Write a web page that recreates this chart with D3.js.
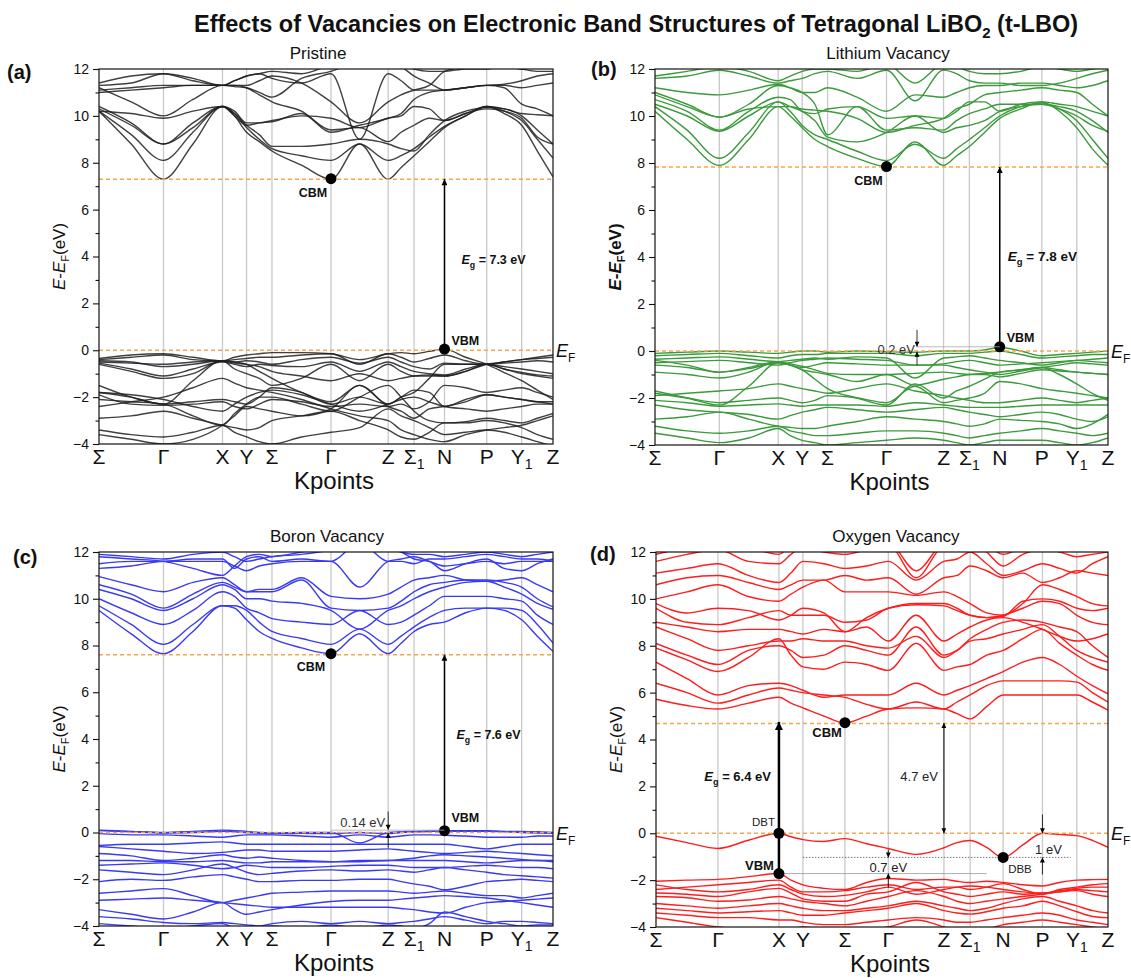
<!DOCTYPE html>
<html>
<head>
<meta charset="utf-8">
<script src="https://cdn.jsdelivr.net/npm/d3@7"></script>
<style>
  body { margin: 0; background: #fff; }
  text { font-family: Arial, "Liberation Sans", sans-serif; }
</style>
</head>
<body>
<svg id="chart" width="1131" height="978"></svg>
<script>
// k-path: labels and fractional positions of the high-symmetry points
// each band is sampled at the 12 points plus the 11 midpoints (23 values)
const kLabels = ["Σ", "Γ", "X", "Y", "Σ", "Γ", "Z", "Σ_1", "N", "P", "Y_1", "Z"];
const kPathABC = [0, 0.142, 0.272, 0.325, 0.381, 0.511, 0.637, 0.694, 0.761, 0.854, 0.931, 1];
const kPathD = [0, 0.137, 0.272, 0.325, 0.418, 0.514, 0.637, 0.695, 0.768, 0.855, 0.931, 1];
const majorTicks = [12, 10, 8, 6, 4, 2, 0, -2, -4];
const minorTicks = [11, 9, 7, 5, 3, 1, -1, -3];

// (a) pristine
const pristineCond = [
  [10.2, 8.8, 7.3, 8.8, 10.4, 10.0, 9.3, 8.9, 8.5, 7.9, 7.3, 8.8, 7.3, 7.8, 8.3, 8.9, 9.5, 10.0, 10.4, 10.1, 9.6, 8.5, 7.4],
  [10.2, 9.2, 8.1, 9.3, 10.4, 10.1, 9.5, 9.0, 8.6, 8.3, 8.1, 8.8, 8.1, 8.3, 8.6, 9.1, 9.55, 10.0, 10.4, 10.2, 9.8, 9.0, 8.2],
  [10.3, 9.6, 8.8, 9.5, 10.4, 10.1, 9.6, 9.2, 8.7, 8.7, 8.8, 9.0, 8.8, 8.6, 8.5, 9.2, 9.8, 10.2, 10.35, 10.3, 10.0, 9.4, 8.8],
  [10.4, 9.7, 8.8, 9.7, 10.4, 10.2, 9.7, 9.7, 9.8, 10.0, 9.9, 9.5, 9.9, 10.0, 10.4, 10.3, 9.8, 10.1, 10.4, 10.3, 10.1, 10.05, 10.0],
  [11.2, 10.6, 10.0, 10.7, 11.3, 11.3, 11.2, 10.9, 10.6, 10.2, 9.4, 9.5, 8.9, 9.3, 9.6, 9.9, 9.8, 10.1, 10.3, 10.2, 9.9, 9.1, 8.8],
  [11.4, 11.7, 11.8, 11.5, 11.3, 11.5, 11.7, 11.8, 11.6, 11.4, 11.8, 9.0, 11.8, 11.5, 11.1, 11.1, 11.1, 11.2, 11.3, 11.35, 11.5, 11.7, 11.8],
  [11.1, 11.2, 11.3, 11.3, 11.3, 11.25, 11.2, 11.0, 10.8, 11.6, 11.9, 12.3, 12.3, 12.1, 11.7, 11.4, 11.1, 11.2, 11.3, 11.3, 11.2, 11.3, 11.4],
  [11.3, 11.4, 11.8, 11.6, 11.3, 11.5, 11.7, 11.8, 11.9, 11.8, 12.2, 12.6, 12.4, 12.2, 12.0, 11.9, 11.9, 12.0, 12.0, 12.1, 12.0, 12.1, 12.2],
  [10.2, 10.1, 9.9, 10.2, 10.4, 10.0, 9.6, 9.7, 9.75, 10.1, 9.3, 9.6, 9.9, 10.1, 10.7, 11.0, 11.1, 11.2, 11.3, 11.2, 10.5, 10.3, 10.0],
  [11.0, 11.1, 11.2, 11.3, 11.3, 11.3, 11.3, 11.5, 11.7, 11.4, 10.6, 9.7, 10.6, 10.9, 11.1, 11.3, 11.9, 12.1, 12.3, 12.2, 12.0, 11.9, 11.9]
];
const pristineVal = [
  [-0.35, -0.2, -0.15, -0.3, -0.45, -0.3, -0.2, -0.15, -0.1, -0.1, -0.15, -0.4, -0.15, -0.1, -0.15, -0.05, 0.05, -0.3, -0.6, -0.95, -1.3, -1.7, -2.1],
  [-0.4, -0.3, -0.2, -0.4, -0.45, -0.4, -0.35, -0.3, -0.3, -0.2, -0.15, -0.6, -0.15, -0.3, -0.5, -0.35, -0.2, -0.45, -0.6, -0.5, -0.4, -0.35, -0.3],
  [-0.5, -0.55, -0.6, -0.5, -0.45, -0.5, -0.45, -0.5, -0.6, -0.4, -0.3, -0.55, -0.3, -0.5, -0.7, -0.8, -0.55, -0.6, -0.6, -0.55, -0.5, -0.45, -0.5],
  [-0.55, -0.8, -1.1, -0.8, -0.5, -0.6, -0.7, -0.6, -0.65, -0.7, -0.5, -0.9, -0.5, -0.7, -0.9, -1.0, -1.05, -0.8, -0.6, -0.7, -0.8, -0.9, -1.0],
  [-0.6, -0.9, -1.2, -1.0, -0.45, -0.8, -1.0, -1.2, -1.5, -1.2, -0.6, -1.3, -0.6, -0.9, -1.1, -1.1, -1.1, -0.9, -0.6, -0.5, -0.4, -0.3, -0.2],
  [-1.5, -2.0, -2.3, -1.3, -0.45, -0.5, -0.6, -0.9, -1.2, -1.8, -2.2, -1.5, -2.3, -2.0, -1.8, -1.2, -0.6, -0.6, -0.6, -0.8, -1.0, -1.1, -1.2],
  [-1.8, -2.0, -2.3, -2.2, -2.1, -2.2, -2.3, -2.0, -1.6, -1.8, -2.3, -2.0, -2.3, -2.0, -1.7, -1.8, -2.4, -2.1, -1.9, -2.0, -2.1, -2.2, -2.2],
  [-1.9, -2.3, -2.35, -2.3, -2.2, -2.4, -2.5, -2.3, -2.1, -2.2, -2.4, -2.3, -2.4, -2.3, -2.5, -2.2, -1.5, -1.6, -1.8, -1.7, -1.6, -1.8, -2.0],
  [-2.1, -2.2, -2.3, -2.8, -3.2, -2.7, -2.3, -2.0, -2.0, -2.3, -2.6, -2.0, -1.5, -2.0, -2.6, -3.0, -3.1, -3.05, -2.9, -3.0, -3.1, -2.9, -2.7],
  [-2.9, -2.8, -2.6, -2.9, -3.2, -3.3, -3.4, -3.3, -3.0, -2.8, -2.6, -3.0, -3.4, -3.7, -3.8, -3.5, -3.1, -3.1, -3.0, -3.1, -3.3, -3.6, -3.8],
  [-3.4, -3.6, -3.7, -3.5, -3.2, -3.5, -3.7, -3.9, -4.0, -3.7, -3.5, -3.3, -2.5, -2.8, -3.0, -3.3, -3.6, -3.5, -3.4, -3.5, -3.7, -3.9, -4.1],
  [-3.6, -3.8, -4.0, -3.8, -3.2, -2.8, -2.4, -2.5, -2.6, -2.8, -2.5, -1.5, -2.4, -2.6, -2.9, -2.5, -2.4, -2.2, -1.9, -2.0, -2.1, -2.2, -2.3],
  [-2.4, -2.2, -2.0, -1.6, -1.2, -1.4, -1.6, -1.7, -1.8, -2.1, -2.5, -2.8, -3.0, -3.4, -3.6, -3.8, -3.9, -3.6, -3.4, -3.3, -3.2, -3.0, -2.8],
  [-0.45, -0.5, -0.7, -0.6, -0.45, -0.55, -0.6, -0.7, -0.9, -1.1, -1.3, -1.0, -1.3, -1.2, -1.1, -1.05, -1.1, -0.9, -0.6, -0.8, -0.95, -1.05, -1.1],
  [-1.8, -1.9, -2.1, -2.4, -2.6, -2.3, -2.0, -1.8, -1.7, -1.9, -2.3, -2.6, -2.3, -2.1, -2.0, -2.2, -2.4, -2.5, -2.6, -2.5, -2.4, -2.3, -2.3]
];

// (b) lithium vacancy
const lithiumCond = [
  [10.2, 9.0, 7.9, 9.0, 10.4, 10.0, 9.5, 9.0, 8.7, 8.2, 7.85, 8.9, 7.9, 8.3, 8.7, 9.3, 9.9, 10.3, 10.6, 10.2, 9.5, 8.6, 7.9],
  [10.4, 9.4, 8.2, 9.3, 10.6, 10.2, 9.6, 9.2, 9.0, 8.5, 8.1, 8.8, 8.2, 8.6, 9.0, 9.5, 10.0, 10.4, 10.55, 10.3, 9.8, 9.0, 8.2],
  [10.5, 10.0, 9.35, 10.0, 10.6, 10.4, 10.2, 9.8, 9.1, 8.9, 9.3, 10.0, 9.3, 9.5, 9.6, 9.8, 10.2, 10.4, 10.5, 10.3, 10.0, 9.6, 9.35],
  [10.7, 10.2, 9.4, 10.2, 10.8, 10.7, 10.2, 10.1, 10.3, 10.4, 9.4, 9.5, 9.4, 9.8, 10.1, 10.3, 10.5, 10.5, 10.5, 10.4, 10.2, 9.8, 9.3],
  [11.0, 10.5, 9.95, 10.5, 11.3, 11.2, 11.0, 10.5, 9.2, 10.4, 9.9, 10.0, 9.9, 10.2, 10.6, 10.6, 10.2, 10.5, 10.6, 10.5, 10.4, 10.2, 10.0],
  [11.2, 11.0, 10.9, 11.1, 11.35, 11.2, 11.0, 11.0, 11.2, 10.8, 10.2, 10.9, 10.8, 11.0, 11.2, 11.3, 11.3, 11.4, 11.4, 11.3, 11.2, 11.3, 11.5],
  [11.6, 11.7, 11.95, 11.7, 11.4, 11.5, 11.6, 11.8, 11.9, 11.6, 11.95, 10.65, 11.95, 11.8, 11.5, 11.4, 11.4, 11.3, 11.3, 11.4, 11.6, 11.8, 11.95],
  [11.7, 11.9, 12.1, 11.9, 11.5, 11.7, 11.9, 12.0, 12.0, 11.9, 12.2, 11.4, 12.2, 12.1, 11.9, 11.8, 11.8, 11.9, 12.1, 12.0, 11.9, 12.0, 12.1],
  [10.9, 10.4, 9.95, 10.3, 10.4, 10.4, 10.3, 10.25, 10.2, 9.9, 9.3, 9.6, 9.9, 10.3, 10.5, 10.9, 11.0, 11.1, 11.2, 11.1, 11.0, 10.5, 10.0]
];
const lithiumVal = [
  [-0.1, -0.05, 0.0, -0.05, -0.1, -0.05, 0.0, 0.0, -0.05, 0.0, -0.03, -0.05, 0.0, 0.0, 0.0, 0.05, 0.15, 0.0, -0.2, -0.15, -0.1, -0.05, 0.0],
  [-0.2, -0.15, -0.1, -0.2, -0.3, -0.2, -0.15, -0.15, -0.1, -0.1, -0.1, -0.2, -0.1, -0.1, -0.1, -0.05, 0.0, -0.15, -0.3, -0.25, -0.2, -0.15, -0.15],
  [-0.35, -0.3, -0.25, -0.35, -0.45, -0.4, -0.35, -0.3, -0.35, -0.25, -0.3, -1.15, -0.3, -0.25, -0.2, -0.3, -0.4, -0.5, -0.6, -0.5, -0.4, -0.35, -0.3],
  [-0.5, -0.45, -0.4, -0.5, -0.6, -0.5, -0.4, -0.35, -0.3, -0.35, -0.4, -0.6, -0.55, -0.45, -0.4, -0.5, -0.6, -0.55, -0.5, -0.45, -0.4, -0.45, -0.5],
  [-0.6, -0.7, -0.9, -0.75, -0.5, -0.6, -0.7, -0.6, -0.5, -0.55, -0.6, -0.6, -0.6, -0.7, -0.8, -0.9, -1.0, -0.85, -0.7, -0.6, -0.5, -0.55, -0.6],
  [-0.9, -1.0, -1.15, -0.9, -0.45, -0.6, -0.8, -0.9, -1.0, -1.3, -1.0, -1.45, -1.2, -1.1, -1.0, -0.95, -0.9, -0.8, -0.7, -0.8, -0.9, -0.95, -1.0],
  [-1.7, -2.0, -2.3, -1.5, -0.5, -0.6, -0.8, -1.2, -1.6, -2.0, -2.3, -1.4, -2.0, -1.7, -1.5, -1.2, -0.9, -0.8, -0.7, -1.0, -1.4, -1.8, -2.1],
  [-1.8, -2.0, -2.2, -2.1, -2.0, -2.1, -2.2, -2.1, -1.9, -2.0, -2.2, -1.5, -2.2, -2.1, -2.0, -1.8, -1.3, -1.4, -1.6, -1.7, -1.8, -1.9, -2.0],
  [-2.1, -2.2, -2.35, -2.3, -2.25, -2.3, -2.35, -2.3, -2.3, -2.3, -2.35, -2.2, -2.3, -2.35, -2.4, -2.4, -2.4, -2.35, -2.3, -2.3, -2.3, -2.3, -2.3],
  [-2.3, -2.5, -2.6, -2.7, -2.9, -2.75, -2.6, -2.5, -2.4, -2.5, -2.6, -2.5, -2.4, -2.5, -2.6, -2.7, -2.8, -2.7, -2.6, -2.7, -2.9, -3.0, -2.8],
  [-2.9, -2.8, -2.6, -2.9, -3.2, -3.25, -3.3, -3.3, -3.2, -3.0, -2.8, -2.9, -3.0, -3.1, -3.2, -3.1, -2.9, -2.95, -3.0, -3.1, -3.3, -3.1, -2.7],
  [-3.2, -3.4, -3.5, -3.4, -3.2, -3.4, -3.5, -3.6, -3.6, -3.5, -3.4, -3.4, -3.5, -3.6, -3.7, -3.6, -3.5, -3.4, -3.3, -3.4, -3.5, -3.6, -3.5],
  [-3.5, -3.7, -3.9, -3.7, -3.3, -3.6, -3.8, -3.9, -4.0, -3.9, -3.8, -3.7, -3.8, -3.9, -4.0, -3.9, -3.8, -3.8, -3.8, -3.9, -4.0, -3.9, -3.7],
  [-1.9, -1.8, -1.7, -1.6, -1.4, -1.5, -1.6, -1.7, -1.8, -1.6, -1.4, -1.7, -1.9, -2.0, -2.1, -2.2, -2.2, -2.1, -2.0, -2.1, -2.2, -2.1, -2.0],
  [-0.4, -0.6, -0.9, -0.7, -0.45, -0.55, -0.65, -0.8, -0.95, -1.0, -1.0, -0.95, -0.9, -0.95, -1.0, -1.0, -1.1, -0.95, -0.8, -0.85, -0.9, -0.95, -1.0]
];

// (c) boron vacancy
const boronCond = [
  [9.5, 8.5, 7.65, 8.6, 9.7, 9.6, 9.1, 8.6, 8.3, 7.9, 7.65, 8.5, 7.65, 8.1, 8.6, 8.9, 9.0, 9.4, 9.6, 9.5, 9.1, 8.4, 7.75],
  [9.7, 8.9, 8.05, 8.9, 9.7, 9.7, 9.5, 9.0, 8.6, 8.3, 8.05, 8.7, 8.05, 8.4, 8.8, 9.2, 9.5, 9.6, 9.6, 9.6, 9.5, 8.9, 8.1],
  [10.0, 9.4, 8.9, 9.5, 10.3, 10.1, 9.6, 9.4, 9.15, 9.0, 8.9, 9.5, 8.9, 9.0, 9.3, 9.7, 10.1, 10.1, 10.1, 10.0, 9.9, 9.3, 8.9],
  [10.4, 10.0, 9.5, 10.0, 10.6, 10.4, 10.0, 10.0, 9.9, 9.8, 9.5, 8.7, 9.5, 9.7, 10.0, 10.3, 10.5, 10.7, 10.75, 10.5, 10.2, 9.8, 9.55],
  [10.6, 10.2, 9.6, 10.2, 10.7, 10.5, 10.3, 10.3, 10.3, 10.8, 9.6, 9.5, 9.6, 9.9, 10.3, 10.6, 10.7, 10.8, 10.8, 10.7, 10.5, 10.0, 9.65],
  [10.95, 10.6, 10.3, 10.7, 10.9, 10.6, 10.3, 10.4, 10.4, 10.9, 10.1, 10.0, 10.2, 10.5, 10.8, 10.9, 11.0, 10.8, 10.75, 10.8, 10.9, 10.6, 10.3],
  [11.3, 11.4, 11.6, 11.6, 11.6, 11.4, 11.2, 11.4, 11.5, 11.6, 11.6, 10.5, 11.6, 11.7, 11.8, 11.6, 11.4, 11.5, 11.6, 11.5, 11.6, 11.6, 11.6],
  [11.5, 11.6, 11.6, 11.7, 11.7, 11.3, 11.7, 11.8, 11.6, 11.7, 11.6, 12.4, 11.6, 11.6, 11.5, 11.7, 11.7, 11.8, 11.9, 11.8, 11.7, 11.7, 11.6],
  [11.8, 11.7, 11.6, 11.3, 11.0, 11.4, 11.8, 11.9, 11.8, 12.0, 12.2, 12.4, 12.2, 12.0, 11.9, 11.9, 11.8, 11.9, 12.0, 11.9, 11.8, 11.9, 12.0],
  [11.9, 11.8, 11.7, 11.9, 12.0, 11.8, 11.6, 11.7, 11.8, 11.9, 12.1, 12.5, 12.1, 12.0, 11.7, 11.6, 11.2, 11.5, 11.7, 11.3, 11.2, 11.5, 11.7]
];
const boronVal = [
  [0.1, 0.05, 0.0, 0.05, 0.1, 0.08, 0.05, 0.0, -0.02, 0.0, 0.0, -0.45, 0.0, 0.03, 0.05, 0.07, 0.08, 0.08, 0.08, 0.05, 0.05, 0.03, 0.0],
  [0.08, 0.03, -0.02, 0.0, 0.05, 0.03, 0.0, -0.03, -0.05, -0.03, -0.05, 0.0, -0.05, 0.0, 0.02, 0.04, 0.06, 0.05, 0.05, 0.03, 0.0, -0.02, -0.03],
  [-0.05, -0.1, -0.1, -0.15, -0.2, -0.15, -0.1, -0.1, -0.1, -0.15, -0.2, -0.1, -0.2, -0.15, -0.1, -0.1, -0.12, -0.15, -0.2, -0.2, -0.2, -0.15, -0.15],
  [-0.55, -0.5, -0.5, -0.45, -0.4, -0.45, -0.5, -0.5, -0.5, -0.5, -0.5, -0.5, -0.5, -0.5, -0.5, -0.5, -0.5, -0.6, -0.7, -0.6, -0.5, -0.5, -0.5],
  [-0.6, -0.7, -0.8, -0.9, -0.85, -0.8, -0.75, -0.75, -0.8, -0.8, -0.8, -0.75, -0.7, -0.75, -0.8, -0.85, -0.9, -0.85, -0.8, -0.85, -0.9, -0.95, -1.0],
  [-0.9, -1.0, -1.2, -1.1, -0.95, -1.05, -1.1, -1.05, -1.1, -1.2, -1.25, -1.2, -1.2, -1.15, -1.1, -1.0, -0.95, -1.0, -1.05, -1.1, -1.15, -1.2, -1.2],
  [-1.2, -1.2, -1.25, -1.25, -1.2, -1.25, -1.3, -1.3, -1.25, -1.25, -1.25, -1.25, -1.2, -1.2, -1.2, -1.2, -1.2, -1.25, -1.3, -1.25, -1.2, -1.2, -1.25],
  [-1.4, -1.35, -1.3, -1.4, -1.55, -1.5, -1.4, -1.45, -1.5, -1.5, -1.45, -1.4, -1.4, -1.45, -1.5, -1.5, -1.5, -1.45, -1.4, -1.45, -1.5, -1.5, -1.55],
  [-1.6, -1.7, -1.8, -1.6, -1.35, -1.5, -1.7, -1.8, -1.75, -1.65, -1.6, -1.65, -1.6, -1.65, -1.7, -1.6, -1.5, -1.6, -1.7, -1.8, -1.85, -1.9, -1.95],
  [-2.1, -2.0, -2.05, -1.9, -1.8, -1.9, -2.0, -2.1, -2.1, -2.05, -2.05, -2.0, -2.0, -2.1, -2.2, -2.3, -2.45, -2.3, -2.1, -2.05, -2.0, -2.05, -2.1],
  [-2.6, -2.5, -2.4, -2.7, -3.0, -2.9, -2.8, -2.7, -2.6, -2.55, -2.5, -2.5, -2.5, -2.55, -2.6, -2.55, -2.5, -2.6, -2.7, -2.7, -2.8, -2.7, -2.6],
  [-2.9, -2.85, -2.8, -2.9, -3.0, -3.05, -3.1, -3.15, -3.2, -3.2, -3.2, -3.2, -3.2, -3.25, -3.3, -3.4, -3.45, -3.2, -3.0, -2.95, -2.9, -2.85, -2.8],
  [-3.3, -3.5, -3.7, -3.4, -3.0, -3.3, -3.5, -3.4, -3.3, -3.1, -2.95, -2.9, -2.9, -2.85, -2.8, -2.75, -2.7, -2.75, -2.8, -2.9, -3.0, -3.1, -3.2],
  [-3.6, -3.7, -3.85, -3.9, -3.85, -3.9, -3.95, -4.0, -3.9, -3.8, -3.9, -3.8, -3.9, -3.85, -3.8, -3.7, -3.6, -3.75, -3.9, -3.8, -3.8, -3.85, -3.9],
  [-3.9, -4.0, -4.1, -4.0, -3.9, -4.1, -4.2, -4.1, -4.0, -4.1, -3.95, -4.1, -3.95, -4.0, -4.1, -3.9, -3.4, -3.6, -3.8, -3.9, -4.0, -3.95, -3.95]
];

// (d) oxygen vacancy
const oxygenCond = [
  [5.72, 5.45, 5.3, 5.55, 5.8, 5.55, 5.35, 5.0, 4.7, 5.0, 5.3, 5.35, 5.3, 5.1, 4.88, 5.4, 5.9, 5.9, 5.9, 5.9, 5.9, 5.6, 5.25],
  [6.4, 6.0, 5.55, 5.9, 6.2, 6.1, 6.0, 5.9, 5.8, 5.5, 5.3, 5.6, 5.3, 5.6, 5.9, 6.3, 6.5, 6.5, 6.5, 6.5, 6.45, 6.0, 5.6],
  [7.3, 6.6, 5.9, 6.3, 6.4, 6.3, 6.1, 5.8, 5.9, 5.9, 5.9, 6.4, 5.9, 6.1, 6.3, 6.6, 6.9, 7.3, 7.5, 7.2, 6.7, 6.3, 5.95],
  [7.9, 7.4, 6.9, 7.5, 8.3, 7.6, 7.1, 7.0, 7.3, 7.2, 6.95, 8.1, 6.95, 7.1, 7.2, 7.6, 7.8, 8.3, 8.7, 8.1, 7.6, 7.2, 6.95],
  [8.1, 7.6, 7.2, 7.8, 8.0, 7.8, 7.5, 7.6, 8.0, 7.8, 7.6, 8.8, 7.6, 7.8, 8.2, 8.3, 8.5, 8.7, 8.9, 8.4, 7.8, 7.5, 7.3],
  [8.8, 8.3, 7.8, 8.0, 8.2, 8.2, 8.3, 8.2, 8.2, 8.0, 7.9, 8.4, 7.5, 7.8, 8.3, 8.7, 9.0, 9.1, 9.0, 8.8, 8.6, 8.0, 7.5],
  [9.0, 8.8, 8.6, 8.7, 8.7, 8.6, 8.5, 8.7, 8.6, 8.8, 8.2, 9.3, 8.2, 8.5, 8.8, 9.1, 9.2, 9.0, 8.7, 8.4, 8.2, 8.3, 8.5],
  [9.6, 9.0, 8.9, 9.2, 9.5, 9.3, 9.3, 9.3, 9.0, 9.1, 9.6, 9.75, 9.7, 9.5, 9.3, 9.2, 9.3, 9.6, 9.9, 9.8, 9.3, 9.0, 8.9],
  [9.8, 9.4, 9.6, 9.5, 9.1, 9.3, 9.6, 9.4, 8.6, 9.2, 9.6, 9.8, 9.8, 9.6, 9.3, 9.2, 9.25, 9.9, 10.0, 9.9, 9.6, 9.5, 9.6],
  [10.0, 10.3, 10.6, 10.1, 9.9, 10.2, 10.5, 10.8, 10.3, 10.3, 10.3, 10.15, 10.3, 10.1, 9.8, 9.4, 9.3, 9.8, 10.6, 10.4, 10.1, 9.8, 9.7],
  [10.6, 10.9, 11.0, 10.7, 10.4, 10.6, 10.8, 10.8, 11.0, 10.8, 10.9, 10.2, 10.9, 11.0, 11.4, 11.2, 10.9, 11.1, 10.7, 10.9, 11.2, 11.1, 11.0],
  [11.1, 11.3, 11.5, 11.0, 10.7, 11.1, 11.6, 11.5, 11.3, 11.4, 11.6, 10.8, 11.6, 11.7, 12.0, 11.5, 11.0, 11.2, 11.5, 11.3, 11.1, 11.5, 11.8],
  [11.6, 11.9, 12.1, 11.6, 11.5, 11.9, 12.2, 12.0, 11.9, 12.1, 12.3, 10.9, 12.3, 12.4, 12.5, 12.0, 11.4, 11.9, 12.1, 12.0, 11.8, 11.9, 12.0],
  [11.9, 12.2, 12.4, 12.2, 11.9, 12.3, 12.5, 12.4, 12.2, 12.3, 12.4, 11.2, 12.4, 12.5, 12.6, 12.3, 11.9, 12.2, 12.4, 12.3, 12.1, 12.2, 12.3]
];
const oxygenDefect = [
  [-0.13, -0.4, -0.65, -0.3, 0.0, -0.15, -0.27, -0.35, -0.23, -0.45, -0.65, -0.9, -0.62, -0.4, -0.31, -0.6, -1.04, -0.5, 0.0, -0.05, -0.1, -0.3, -0.6]
];
const oxygenVal = [
  [-2.05, -2.0, -1.97, -1.85, -1.72, -2.0, -2.2, -2.35, -2.4, -2.1, -1.93, -2.0, -1.97, -2.05, -2.1, -2.05, -2.1, -2.2, -2.25, -2.1, -2.0, -1.98, -1.97],
  [-2.4, -2.3, -2.2, -2.1, -2.0, -2.3, -2.5, -2.5, -2.45, -2.3, -2.2, -2.4, -2.3, -2.3, -2.4, -2.3, -2.15, -2.4, -2.6, -2.4, -2.3, -2.2, -2.15],
  [-2.55, -2.6, -2.7, -2.5, -2.35, -2.55, -2.8, -2.9, -2.9, -2.6, -2.5, -2.1, -2.5, -2.6, -2.7, -2.6, -2.5, -2.6, -2.55, -2.5, -2.4, -2.45, -2.5],
  [-2.7, -2.75, -2.9, -2.85, -2.7, -2.8, -2.9, -3.0, -3.1, -2.9, -2.7, -2.45, -2.7, -2.9, -3.0, -2.9, -2.8, -2.7, -2.6, -2.5, -2.45, -2.6, -2.7],
  [-3.0, -3.1, -3.2, -3.1, -3.0, -3.1, -3.2, -3.3, -3.3, -3.2, -3.1, -2.9, -3.1, -3.2, -3.3, -3.2, -3.0, -2.8, -2.7, -2.9, -3.1, -3.3, -3.4],
  [-3.2, -3.3, -3.4, -3.35, -3.3, -3.4, -3.5, -3.5, -3.4, -3.3, -3.2, -3.0, -3.3, -3.4, -3.45, -3.35, -3.2, -3.1, -2.9, -3.1, -3.35, -3.55, -3.6],
  [-3.4, -3.5, -3.6, -3.6, -3.7, -3.7, -3.8, -3.9, -3.9, -3.8, -3.7, -3.6, -3.7, -3.8, -3.8, -3.7, -3.6, -3.5, -3.4, -3.5, -3.7, -3.8, -3.9],
  [-3.6, -3.8, -4.0, -4.1, -4.2, -4.1, -4.0, -4.1, -4.2, -4.1, -4.0, -3.7, -4.0, -4.2, -4.2, -4.1, -3.9, -3.8, -3.7, -3.8, -3.9, -4.0, -4.1],
  [-2.2, -2.4, -2.5, -2.4, -2.2, -2.4, -2.6, -2.7, -2.65, -2.5, -2.3, -2.6, -2.4, -2.3, -2.25, -2.3, -2.4, -2.5, -2.55, -2.45, -2.35, -2.3, -2.3]
];

// band edges (eV)
const cbm = [7.32, 7.85, 7.65, 4.72];
const vbm = [0.05, 0.18, 0.08, -1.72];
const orangeLevels = [[0, 7.3], [0, 7.83], [0, 7.6], [0, 4.68]];

const svg = d3.select("#chart");
const defs = svg.append("defs");

function marker(id, len, wid) {
  defs.append("marker")
    .attr("id", id)
    .attr("viewBox", "0 0 10 10")
    .attr("refX", 10).attr("refY", 5)
    .attr("markerUnits", "userSpaceOnUse")
    .attr("markerWidth", len).attr("markerHeight", wid)
    .attr("orient", "auto-start-reverse")
    .append("path").attr("d", "M0,0 L10,5 L0,10 z").attr("fill", "#000");
}
marker("headBig", 12, 6);
marker("headThick", 14, 8);
marker("headSmall", 7, 5);

function kAt(path, i) {
  return i % 2 === 0 ? path[i / 2] : (path[(i - 1) / 2] + path[(i + 1) / 2]) / 2;
}

function drawPanel(p, idx) {
  const g = svg.append("g");
  const b = p.box;
  const x = d3.scaleLinear().domain([0, 1]).range([b.x, b.x + b.w]);
  const y = d3.scaleLinear().domain([-4, 12]).range([b.y + b.h, b.y]);

  defs.append("clipPath").attr("id", "clip" + idx)
    .append("rect").attr("x", b.x).attr("y", b.y).attr("width", b.w).attr("height", b.h);

  // vertical lines at the high symmetry points
  g.selectAll(".kline").data(p.kPath.slice(1, -1)).enter().append("line")
    .attr("x1", d => x(d)).attr("x2", d => x(d))
    .attr("y1", b.y).attr("y2", b.y + b.h)
    .attr("stroke", "#c9c9c9").attr("stroke-width", 1.3);

  const line = d3.line()
    .x((d, i) => x(kAt(p.kPath, i)))
    .y(d => y(d))
    .curve(d3.curveMonotoneX);

  g.append("g").attr("clip-path", "url(#clip" + idx + ")")
    .selectAll("path").data(p.bands).enter().append("path")
    .attr("d", line)
    .attr("fill", "none")
    .attr("stroke", p.color)
    .attr("stroke-opacity", p.opacity)
    .attr("stroke-width", 1.4);

  // orange dashed lines (E_F and CBM)
  g.selectAll(".lvl").data(orangeLevels[idx]).enter().append("line")
    .attr("x1", b.x).attr("x2", b.x + b.w)
    .attr("y1", d => y(d)).attr("y2", d => y(d))
    .attr("stroke", "#f7a64b").attr("stroke-width", 1.5)
    .attr("stroke-dasharray", "4,3");

  g.append("rect")
    .attr("x", b.x).attr("y", b.y).attr("width", b.w).attr("height", b.h)
    .attr("fill", "none").attr("stroke", "#111").attr("stroke-width", 1.2);

  // y axis
  const ax = g.append("g").attr("transform", "translate(" + b.x + ",0)")
    .call(d3.axisLeft(y).tickValues(majorTicks).tickSize(6).tickPadding(4)
      .tickFormat(d => d < 0 ? "\u2212" + Math.abs(d) : d));
  ax.select(".domain").remove();
  ax.selectAll("text").attr("font-size", 14).attr("font-family", "Arial, 'Liberation Sans', sans-serif").attr("fill", "#111");
  ax.selectAll("line").attr("stroke", "#111").attr("stroke-width", 1.1);
  const mx = g.append("g").attr("transform", "translate(" + b.x + ",0)")
    .call(d3.axisLeft(y).tickValues(minorTicks).tickSize(3.5).tickFormat(""));
  mx.select(".domain").remove();
  mx.selectAll("line").attr("stroke", "#111").attr("stroke-width", 1.1);

  // k-point labels
  const kt = g.selectAll(".klab").data(kLabels).enter().append("text")
    .attr("x", (d, i) => x(p.kPath[i]))
    .attr("y", b.y + b.h + 20)
    .attr("text-anchor", "middle")
    .attr("font-size", 21).attr("fill", "#111");
  kt.each(function (d) {
    const parts = d.split("_");
    const t = d3.select(this);
    t.append("tspan").text(parts[0]);
    if (parts[1]) t.append("tspan").attr("font-size", 14).attr("dy", 5).text(parts[1]);
  });

  g.append("text").attr("x", b.x + b.w / 2 + 8).attr("y", b.y + b.h + 45)
    .attr("text-anchor", "middle").attr("font-size", 24).attr("fill", "#111").text("Kpoints");

  // y title
  const yt = g.append("text")
    .attr("transform", "translate(" + (b.x - 34) + "," + (b.y + b.h / 2) + ") rotate(-90)")
    .attr("text-anchor", "middle").attr("font-size", 17).attr("fill", "#111")
    .attr("font-weight", p.boldY ? "bold" : "normal");
  yt.append("tspan").attr("font-style", "italic").text("E");
  yt.append("tspan").text("-");
  yt.append("tspan").attr("font-style", "italic").text("E");
  yt.append("tspan").attr("font-size", 11).attr("dy", 4).text("F");
  yt.append("tspan").attr("dy", -4).text("(eV)");

  // E_F label
  const ef = g.append("text").attr("x", b.x + b.w + 3).attr("y", y(0) + 7)
    .attr("font-size", 18).attr("fill", "#111");
  ef.append("tspan").attr("font-style", "italic").text("E");
  ef.append("tspan").attr("font-size", 12).attr("dy", 5).text("F");

  g.append("text").attr("x", p.titleX).attr("y", b.y - 10)
    .attr("text-anchor", "middle").attr("font-size", 17).attr("fill", "#111").text(p.title);
  g.append("text").attr("x", p.tagX).attr("y", p.tagY)
    .attr("font-size", 20).attr("font-weight", "bold").attr("fill", "#111").text(p.tag);

  return { g, x, y, b };
}

function dot(g, cx, cy) {
  g.append("circle").attr("cx", cx).attr("cy", cy).attr("r", 5.5).attr("fill", "#000");
}
function label(g, tx, ty, s, opts) {
  return g.append("text").attr("x", tx).attr("y", ty)
    .attr("text-anchor", opts.anchor || "start")
    .attr("font-size", opts.size || 12.5)
    .attr("font-weight", opts.bold ? "bold" : "normal")
    .attr("fill", opts.fill || "#111").text(s);
}
function vArrow(g, ax, y1, y2, w, head, both) {
  const l = g.append("line").attr("x1", ax).attr("x2", ax).attr("y1", y1).attr("y2", y2)
    .attr("stroke", "#000").attr("stroke-width", w)
    .attr("marker-end", "url(#" + head + ")");
  if (both) l.attr("marker-start", "url(#" + head + ")");
}
function gapLabel(g, tx, ty, value, size, anchor) {
  const t = g.append("text").attr("x", tx).attr("y", ty)
    .attr("text-anchor", anchor || "start")
    .attr("font-size", size).attr("font-weight", "bold").attr("fill", "#111");
  t.append("tspan").attr("font-style", "italic").text("E");
  t.append("tspan").attr("font-size", size * 0.7).attr("dy", 4).text("g");
  t.append("tspan").attr("dy", -4).text(" = " + value + " eV");
}

const panels = [
  { title: "Pristine", tag: "(a)", box: { x: 99, y: 69, w: 454, h: 375 }, kPath: kPathABC,
    color: "#1e1e1e", opacity: 0.85, bands: pristineCond.concat(pristineVal), titleX: 318, tagX: 7, tagY: 79 },
  { title: "Lithium Vacancy", tag: "(b)", box: { x: 655, y: 69, w: 453, h: 376 }, kPath: kPathABC,
    color: "#3b9a3b", opacity: 1, bands: lithiumCond.concat(lithiumVal), titleX: 888, tagX: 591, tagY: 76, boldY: true },
  { title: "Boron Vacancy", tag: "(c)", box: { x: 99, y: 552, w: 454, h: 374 }, kPath: kPathABC,
    color: "#3a3af2", opacity: 1, bands: boronCond.concat(boronVal), titleX: 327, tagX: 13, tagY: 564 },
  { title: "Oxygen Vacancy", tag: "(d)", box: { x: 656, y: 552, w: 452, h: 375 }, kPath: kPathD,
    color: "#ff1c1c", opacity: 1, bands: oxygenCond.concat(oxygenDefect, oxygenVal), titleX: 896, tagX: 590, tagY: 561 }
];

const P = panels.map(drawPanel);

// (a) annotations
{
  const { g, x, y } = P[0];
  const xc = x(kPathABC[5]), xv = x(kPathABC[8]);
  vArrow(g, xv, y(vbm[0]), y(7.3), 1.5, "headBig");
  dot(g, xc, y(cbm[0]));
  dot(g, xv, y(vbm[0]));
  label(g, xc - 18, y(cbm[0]) + 18, "CBM", { anchor: "middle", bold: true });
  label(g, xv + 7, y(vbm[0]) - 4, "VBM", { bold: true });
  gapLabel(g, xv + 17, y(3.7), "7.3", 12.5);
}
// (b) annotations
{
  const { g, x, y } = P[1];
  const xc = x(kPathABC[5]), xv = x(kPathABC[8]), xa = x(kAt(kPathABC, 11)) + 2;
  vArrow(g, xv, y(vbm[1]), y(7.83), 1.5, "headBig");
  dot(g, xc, y(cbm[1]));
  dot(g, xv, y(vbm[1]));
  label(g, xc - 18, y(cbm[1]) + 18, "CBM", { anchor: "middle", bold: true });
  label(g, xv + 7, y(vbm[1]) - 5, "VBM", { bold: true });
  gapLabel(g, xv + 8, y(3.83), "7.8", 13.5);
  g.append("line").attr("x1", xa).attr("x2", xv).attr("y1", y(vbm[1])).attr("y2", y(vbm[1]))
    .attr("stroke", "#aaa").attr("stroke-width", 0.8);
  vArrow(g, xa, y(0.9), y(vbm[1]), 0.8, "headSmall");
  vArrow(g, xa, y(-0.6), y(-0.03), 0.8, "headSmall");
  label(g, xa - 2, y(0) + 3, "0.2 eV", { anchor: "end", size: 13, fill: "#333" });
}
// (c) annotations
{
  const { g, x, y } = P[2];
  const xc = x(kPathABC[5]), xv = x(kPathABC[8]), xz = x(kPathABC[6]);
  vArrow(g, xv, y(vbm[2]), y(7.6), 1.5, "headBig");
  dot(g, xc, y(cbm[2]));
  dot(g, xv, y(vbm[2]));
  label(g, xc - 20, y(cbm[2]) + 17, "CBM", { anchor: "middle", bold: true });
  label(g, xv + 7, y(vbm[2]) - 9, "VBM", { bold: true });
  gapLabel(g, xv + 12, y(4.0), "7.6", 12.5);
  g.append("line").attr("x1", xc).attr("x2", xv).attr("y1", y(0.1)).attr("y2", y(0.1))
    .attr("stroke", "#aaa").attr("stroke-width", 0.8);
  vArrow(g, xz, y(0.9), y(0.12), 0.8, "headSmall");
  vArrow(g, xz, y(-0.65), y(-0.02), 0.8, "headSmall");
  label(g, xz - 3, y(0.25), "0.14 eV", { anchor: "end", size: 13, fill: "#333" });
}
// (d) annotations
{
  const { g, x, y } = P[3];
  const xX = x(kPathD[2]), xS = x(kPathD[4]), xG = x(kPathD[5]), xZ = x(kPathD[6]);
  const xN = x(kPathD[8]), xP = x(kPathD[9]);
  const dbb = -1.03;
  g.append("line").attr("x1", x(kPathD[3])).attr("x2", x(kPathD[10]) - 6)
    .attr("y1", y(dbb)).attr("y2", y(dbb))
    .attr("stroke", "#555").attr("stroke-width", 0.8).attr("stroke-dasharray", "1.5,1.5");
  g.append("line").attr("x1", xX).attr("x2", x(kAt(kPathD, 15)))
    .attr("y1", y(vbm[3])).attr("y2", y(vbm[3]))
    .attr("stroke", "#999").attr("stroke-width", 0.8);
  vArrow(g, xX, y(vbm[3]), y(4.75), 2.5, "headThick");
  vArrow(g, xZ, y(0), y(4.7), 1, "headSmall", true);
  vArrow(g, xG, y(-0.7), y(dbb), 0.8, "headSmall");
  vArrow(g, xG, y(-2.33), y(vbm[3]), 0.8, "headSmall");
  vArrow(g, xP, y(0.8), y(0), 0.8, "headSmall");
  vArrow(g, xP, y(-1.76), y(dbb), 0.8, "headSmall");
  dot(g, xX, y(0));
  dot(g, xX, y(vbm[3]));
  dot(g, xS, y(cbm[3]));
  dot(g, xN, y(dbb));
  label(g, xX - 4, y(0) - 7, "DBT", { anchor: "end", size: 11.5, fill: "#222" });
  label(g, xX - 5, y(vbm[3]) - 4, "VBM", { anchor: "end", bold: true, size: 13 });
  label(g, xS - 3, y(cbm[3]) + 14, "CBM", { anchor: "end", bold: true, size: 13 });
  label(g, xN + 5, y(dbb) + 16, "DBB", { size: 11.5, fill: "#222" });
  gapLabel(g, xX - 8, y(2.24), "6.4", 13, "end");
  label(g, xZ - 6, y(2.24), "4.7 eV", { anchor: "end", size: 13, fill: "#222" });
  label(g, xG, y(-1.45) + 5, "0.7 eV", { anchor: "middle", size: 13, fill: "#222" });
  label(g, xP + 6, y(-0.67) + 5, "1 eV", { anchor: "middle", size: 13, fill: "#222" });
}

// main title
const title = svg.append("text").attr("x", 636).attr("y", 32)
  .attr("text-anchor", "middle").attr("font-size", 23.5).attr("font-weight", "bold").attr("fill", "#111");
title.append("tspan").text("Effects of Vacancies on Electronic Band Structures of Tetragonal LiBO");
title.append("tspan").attr("font-size", 15).attr("dy", 6).text("2");
title.append("tspan").attr("dy", -6).text(" (t-LBO)");
</script>
</body>
</html>
